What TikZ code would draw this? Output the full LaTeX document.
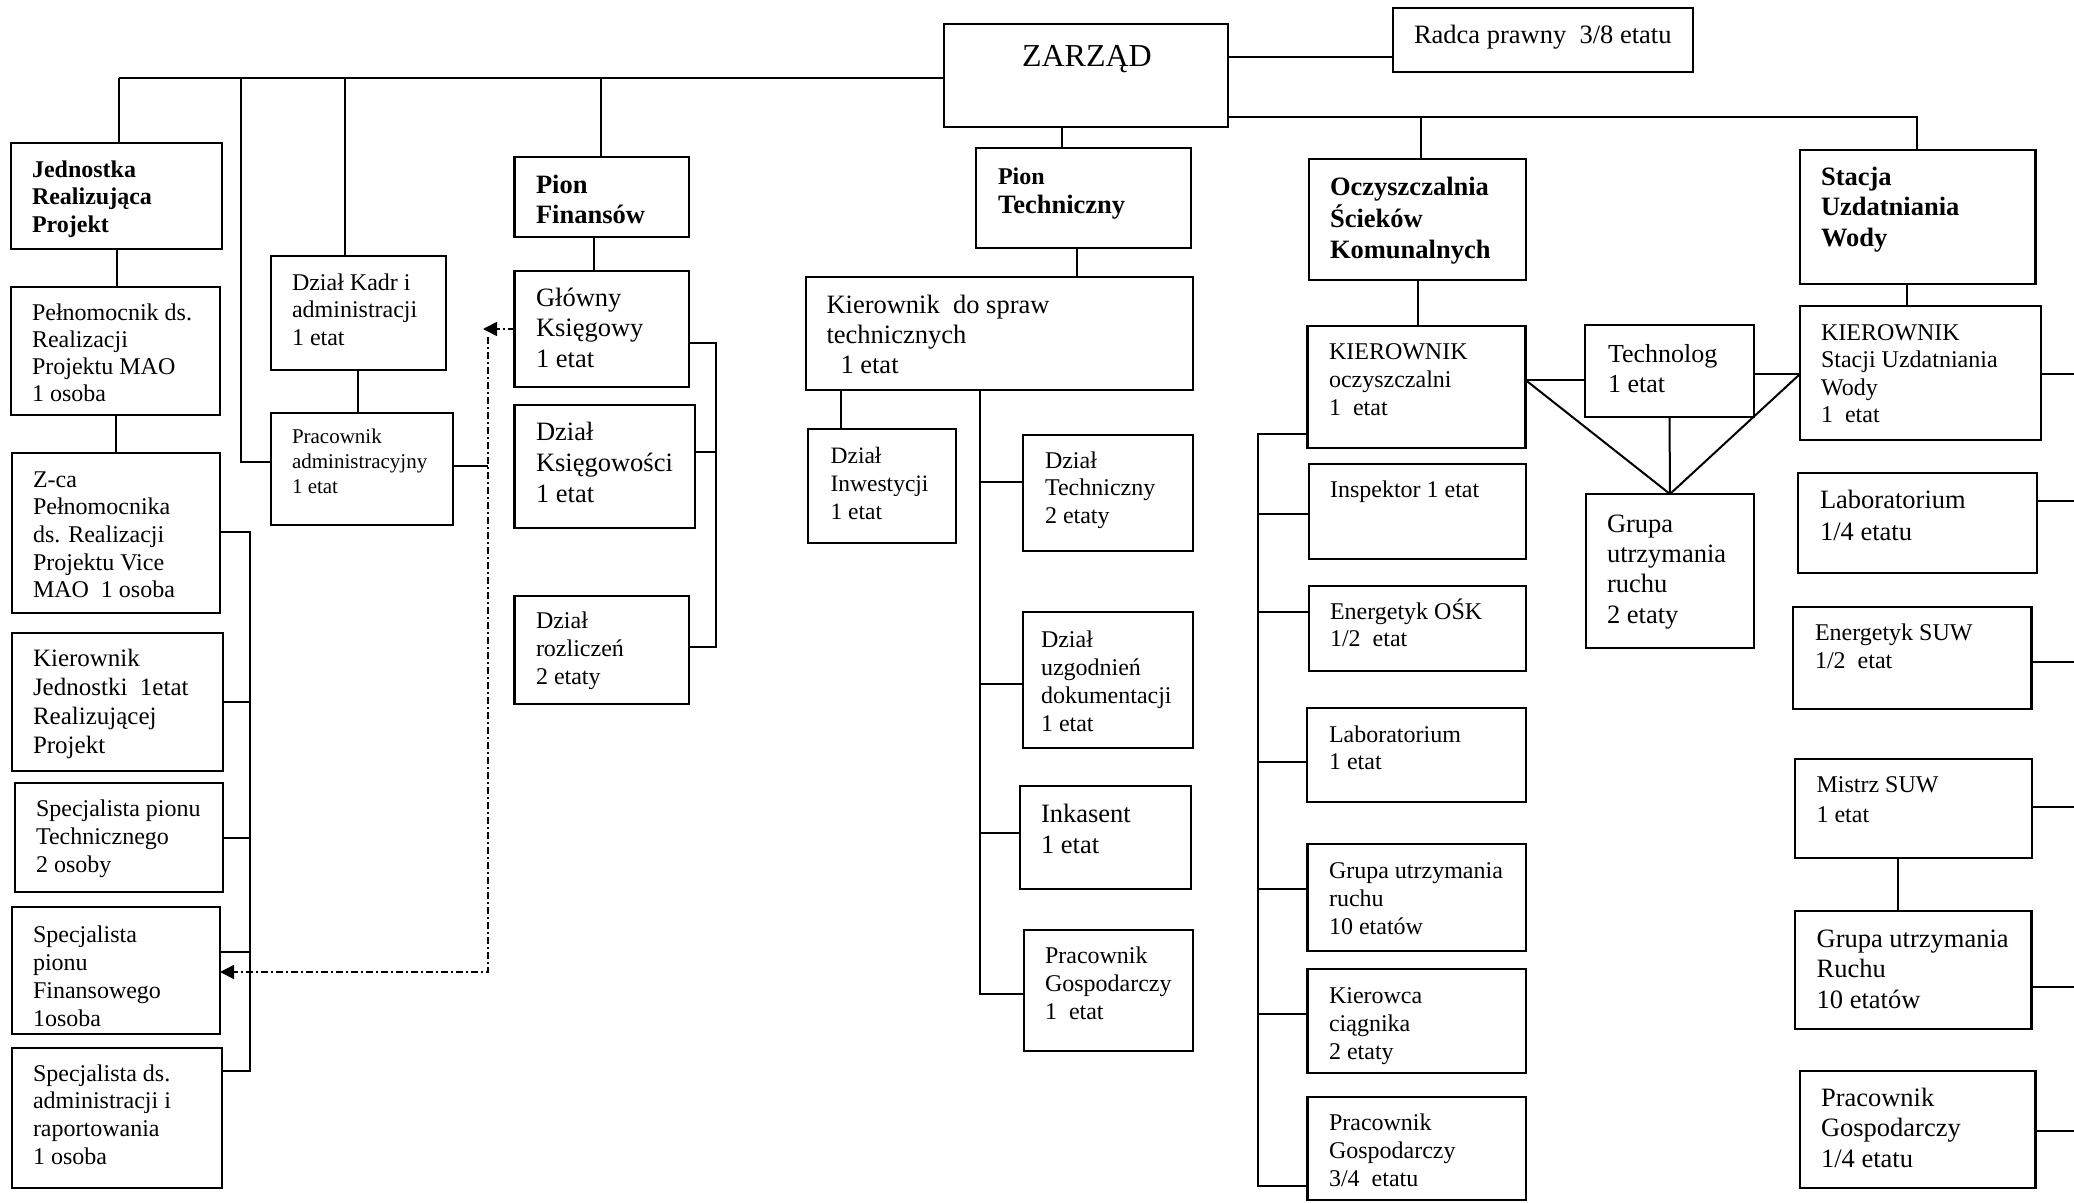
\documentclass[tikz,border=0pt]{standalone}
\usepackage{fontspec}
\setmainfont{Liberation Serif}
\usetikzlibrary{fit,arrows.meta}
\newcommand\fsz[2]{\fontsize{#1}{#2}\selectfont}
\newcommand\orgbox[9]{%
  \node[obox, fit={(#2,#3) (#4,#5)}] (#1) {};
  \node[otext, #8] (#1-t) at (#6,#7) {\begin{tabular}[t]{@{}l@{}}#9\end{tabular}};}
\begin{document}
\begin{tikzpicture}[x=1pt, y=-1pt, line width=2pt,
  obox/.style={draw, line width=2.2pt, inner sep=0pt, outer sep=0pt},
  otext/.style={anchor=base west, inner sep=0pt, outer sep=0pt},
  ddot/.style={line width=1.8pt, dash pattern=on 7pt off 3pt on 2pt off 3pt},
  tip/.style={-{Triangle[length=14pt,width=14pt]}}]
\fill[white] (0,0) rectangle (2074,1202);
\useasboundingbox (0,0) rectangle (2074,1202);

% ---------------- boxes ----------------
\orgbox{JRP}{11}{143}{222}{249}{32}{177}{font=\bfseries\fsz{24}{27.5}}{Jednostka\\Realizująca\\Projekt}
\orgbox{PELN}{11}{287}{220}{415}{32}{320}{font=\fsz{24}{27.3}}{Pełnomocnik ds.\\Realizacji\\Projektu MAO\\1 osoba}
\orgbox{ZCA}{12}{453}{220}{613}{33}{487}{font=\fsz{24}{27.7}}{Z-ca\\Pełnomocnika\\ds. Realizacji\\Projektu Vice\\MAO~~1 osoba}
\orgbox{KJ}{12}{633}{223}{771}{33}{666}{font=\fsz{25}{29}}{Kierownik\\Jednostki~~1etat\\Realizującej\\Projekt}
\orgbox{ST}{15}{783}{223}{892}{36}{816}{font=\fsz{24}{28.3}}{Specjalista pionu\\Technicznego\\2 osoby}
\orgbox{SF}{12}{907}{220}{1034}{33}{942}{font=\fsz{24}{28}}{Specjalista\\pionu\\Finansowego\\1osoba}
\orgbox{SA}{12}{1048}{222}{1188}{33}{1081}{font=\fsz{24}{27.7}}{Specjalista ds.\\administracji i\\raportowania\\1 osoba}
\orgbox{DK}{271}{256}{446}{370}{292}{290}{font=\fsz{24}{27.5}}{Dział Kadr i\\administracji\\1 etat}
\orgbox{PA}{271}{413}{453}{525}{292}{443}{font=\fsz{21}{25}}{Pracownik\\administracyjny\\1 etat}
\orgbox{PF}{514.5}{157}{688.7}{237}{536}{193}{font=\bfseries\fsz{26.5}{30}}{Pion\\Finansów}
\orgbox{GK}{514.5}{271}{689}{387}{536}{306}{font=\fsz{26.5}{30.5}}{Główny\\Księgowy\\1 etat}
\orgbox{DKS}{514.5}{405}{694.6}{528}{536}{440}{font=\fsz{26.5}{31}}{Dział\\Księgowości\\1 etat}
\orgbox{DR}{514.5}{596}{688.7}{704}{536}{628}{font=\fsz{24}{28.3}}{Dział\\rozliczeń\\2 etaty}
\orgbox{ZAR}{944}{24}{1228}{127}{1022}{66.7}{font=\fsz{32}{36}}{ZARZĄD}
\orgbox{RAD}{1393}{8}{1693}{72}{1414}{43.3}{font=\fsz{26.5}{30}}{Radca prawny~~3/8 etatu}
\orgbox{PT}{976}{148}{1191}{248}{998}{184}{font=\bfseries\fsz{26.5}{29}}{{\fsz{24}{29}Pion}\\Techniczny}
\orgbox{KDS}{806}{277}{1193}{390}{826.5}{313}{font=\fsz{26.5}{30}}{Kierownik~~do spraw\\technicznych\\\hspace*{14pt}1 etat}
\orgbox{DI}{808}{429}{955.6}{543}{830.6}{463}{font=\fsz{23.5}{28.3}}{Dział\\Inwestycji\\1 etat}
\orgbox{DT}{1023}{435}{1193}{551}{1045}{468}{font=\fsz{24}{27.5}}{Dział\\Techniczny\\2 etaty}
\orgbox{DU}{1023}{612}{1193}{748}{1041}{647}{font=\fsz{24}{28}}{Dział\\uzgodnień\\dokumentacji\\1 etat}
\orgbox{INK}{1020}{786}{1191}{889}{1041}{822}{font=\fsz{26.5}{31}}{Inkasent\\1 etat}
\orgbox{PGA}{1024}{930}{1193}{1051}{1045}{963}{font=\fsz{24}{28.3}}{Pracownik\\Gospodarczy\\1~~etat}
\orgbox{OSK}{1308.6}{159}{1526}{280}{1330}{195}{font=\bfseries\fsz{26.5}{31}}{Oczyszczalnia\\Ścieków\\Komunalnych}
\orgbox{KO}{1307.5}{326}{1525.5}{448}{1329}{359}{font=\fsz{24}{28}}{KIEROWNIK\\oczyszczalni\\1~~etat}
\orgbox{INS}{1308.6}{464}{1526}{559}{1330}{497}{font=\fsz{24}{28}}{Inspektor 1 etat}
\orgbox{EO}{1308.6}{586}{1526}{671}{1330}{619}{font=\fsz{24}{27.5}}{Energetyk OŚK\\1/2~~etat}
\orgbox{LO}{1307}{708}{1526}{802}{1329}{742}{font=\fsz{24}{27.5}}{Laboratorium\\1 etat}
\orgbox{GD}{1307.5}{844}{1526}{951}{1329}{878}{font=\fsz{24}{28.3}}{Grupa utrzymania\\ruchu\\10 etatów}
\orgbox{KC}{1307.5}{969}{1526}{1073}{1329}{1003}{font=\fsz{24}{28}}{Kierowca\\ciągnika\\2 etaty}
\orgbox{PGB}{1307.5}{1097}{1526}{1200}{1329}{1130}{font=\fsz{24}{28}}{Pracownik\\Gospodarczy\\3/4~~etatu}
\orgbox{TECH}{1585}{325}{1754}{417}{1608}{362}{font=\fsz{26}{30}}{Technolog\\1 etat}
\orgbox{GB}{1586}{494}{1754}{648}{1607}{532}{font=\fsz{26.5}{30.4}}{Grupa\\utrzymania\\ruchu\\2 etaty}
\orgbox{SUW}{1800}{150}{2035.5}{284}{1821}{185}{font=\bfseries\fsz{26.5}{30.5}}{Stacja\\Uzdatniania\\Wody}
\orgbox{KS}{1800}{306}{2040.6}{440}{1821}{340}{font=\fsz{24}{27.5}}{KIEROWNIK\\Stacji Uzdatniania\\Wody\\1~~etat}
\orgbox{LS}{1798}{473}{2037}{573}{1820}{508}{font=\fsz{26.5}{32}}{Laboratorium\\1/4 etatu}
\orgbox{ES}{1793}{607}{2031.5}{709}{1815}{640}{font=\fsz{24}{28}}{Energetyk SUW\\1/2~~etat}
\orgbox{MS}{1795}{759}{2032}{858}{1816.5}{792}{font=\fsz{24}{30}}{Mistrz SUW\\1 etat}
\orgbox{GR}{1795}{911}{2031.5}{1029}{1816.6}{947}{font=\fsz{26.5}{30.8}}{Grupa utrzymania\\Ruchu\\10 etatów}
\orgbox{PGC}{1800}{1071}{2035.5}{1188}{1821}{1106}{font=\fsz{26.5}{30.8}}{Pracownik\\Gospodarczy\\1/4 etatu}

% ---------------- junction coordinates ----------------
\coordinate (tl) at (119,78);
\coordinate (jA) at (241,78);
\coordinate (jK) at (345,78);
\coordinate (jF) at (601,78);
\coordinate (jO) at (1421,117);
\coordinate (rl) at (1917,117);
\coordinate (lbT) at (250,532);
\coordinate (lbB) at (250,1071);
\coordinate (gbT) at (716,343);
\coordinate (gbB) at (716,647);
\coordinate (kt) at (980,390);
\coordinate (ktB) at (980,994);
\coordinate (otT) at (1258,434);
\coordinate (otB) at (1258,1186);
\coordinate (dTip) at (483,329);
\coordinate (dTop) at (488,337);
\coordinate (dPA) at (488,466);
\coordinate (reA) at (2074,374);
\coordinate (reB) at (2074,501);
\coordinate (reC) at (2074,662);
\coordinate (reD) at (2074,807);
\coordinate (reE) at (2074,987);
\coordinate (reF) at (2074,1131);

% ---------------- connectors ----------------
% left part of the top line
\draw (tl) -- (tl -| ZAR.west);
\draw (tl) -- (tl |- JRP.north);
\draw (jA) |- (PA.west |- 0,462);
\draw (jK) -- (jK |- DK.north);
\draw (jF) -- (jF |- PF.north);
% right part of the top line
\draw (ZAR.east |- rl) -- (rl) -- (rl |- SUW.north);
\draw (jO) -- (jO |- OSK.north);
\draw (ZAR.east |- 0,57) -- (RAD.west |- 0,57);
\draw (ZAR.south -| 1062,0) -- (PT.north -| 1062,0);

% left column
\draw (JRP.south -| 117,0) -- (PELN.north -| 117,0);
\draw (PELN.south -| 116,0) -- (ZCA.north -| 116,0);
\draw (ZCA.east |- lbT) -- (lbT) -- (lbB) -- (SA.east |- lbB);
\draw (KJ.east |- 0,702) -- (lbT |- 0,702);
\draw (ST.east |- 0,838) -- (lbT |- 0,838);
\draw (SF.east |- 0,952) -- (lbT |- 0,952);
\draw (DK.south -| 358,0) -- (PA.north -| 358,0);
\draw (PA.east |- dPA) -- (dPA);

% dash-dot link
\draw[ddot, tip] (GK.west |- dTip) -- (dTip);
\draw[ddot, tip] (dTop) |- (SF.east |- 0,972);

% finance
\draw (PF.south -| 594,0) -- (GK.north -| 594,0);
\draw (GK.east |- gbT) -- (gbT) -- (gbB) -- (DR.east |- gbB);
\draw (DKS.east |- 0,452) -- (gbT |- 0,452);

% technical
\draw (PT.south -| 1077,0) -- (KDS.north -| 1077,0);
\draw (KDS.south -| 841,0) -- (DI.north -| 841,0);
\draw (kt) -- (ktB) -- (PGA.west |- ktB);
\draw (kt |- 0,482) -- (DT.west |- 0,482);
\draw (kt |- 0,684) -- (DU.west |- 0,684);
\draw (kt |- 0,833) -- (INK.west |- 0,833);

% sewage plant
\draw (OSK.south -| 1418,0) -- (KO.north -| 1418,0);
\draw (KO.west |- otT) -- (otT) -- (otB) -- (PGB.west |- otB);
\draw (otT |- 0,514) -- (INS.west |- 0,514);
\draw (otT |- 0,612) -- (EO.west |- 0,612);
\draw (otT |- 0,762) -- (LO.west |- 0,762);
\draw (otT |- 0,889) -- (GD.west |- 0,889);
\draw (otT |- 0,1014) -- (KC.west |- 0,1014);
\draw (KO.east |- 0,380) -- (TECH.west |- 0,380);
\draw (TECH.east |- 0,374) -- (KS.west |- 0,374);
\draw (KO.east |- 0,380) -- (GB.north);
\draw (KS.west |- 0,374) -- (GB.north);
\draw (TECH.south) -- (GB.north);

% water station
\draw (SUW.south -| 1907,0) -- (KS.north -| 1907,0);
\draw (MS.south -| 1898,0) -- (GR.north -| 1898,0);
\draw (KS.east |- reA) -- (reA);
\draw (LS.east |- reB) -- (reB);
\draw (ES.east |- reC) -- (reC);
\draw (MS.east |- reD) -- (reD);
\draw (GR.east |- reE) -- (reE);
\draw (PGC.east |- reF) -- (reF);
\end{tikzpicture}
\end{document}
